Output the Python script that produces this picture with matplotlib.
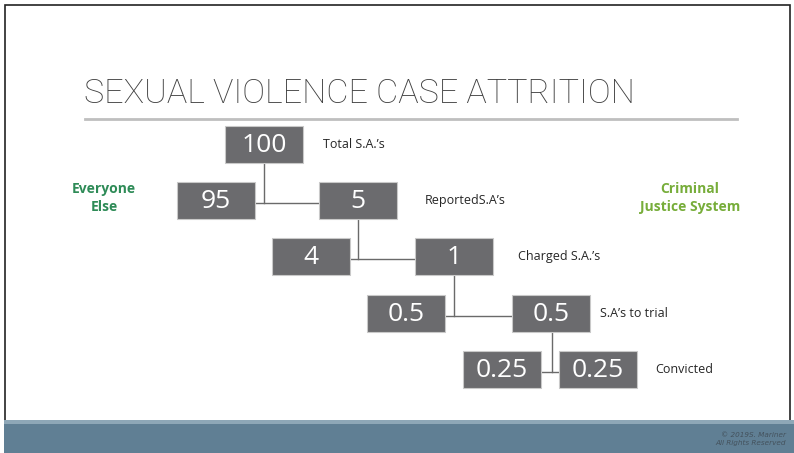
import matplotlib
matplotlib.use("Agg")
import matplotlib.pyplot as plt
from matplotlib.patches import Rectangle

# ---- data ----
right_values = ["100", "5", "1", "0.5", "0.25"]
left_values = [None, "95", "4", "0.5", "0.25"]
stage_labels = ["Total S.A.\u2019s", "ReportedS.A\u2019s", "Charged S.A.\u2019s", "S.A\u2019s to trial", "Convicted"]
title = "SEXUAL VIOLENCE CASE ATTRITION"
left_group = "Everyone\nElse"
right_group = "Criminal\nJustice System"

# ---- layout (pixels) ----
W, H = 794, 453
right_x = [225, 319, 415, 512, 559]
left_x = [None, 177, 272, 367, 463]
row_top = [126, 182, 238, 295, 351]
label_x = [323, 425, 518, 600, 655]
bw, bh = 78, 37
box_col = "#6b6b6e"
line_col = "#6a6a6a"

fig = plt.figure(figsize=(W / 100, H / 100), dpi=100)
ax = fig.add_axes([0, 0, 1, 1])
ax.set_xlim(0, W)
ax.set_ylim(H, 0)
ax.axis("off")

# slide frame
ax.add_patch(Rectangle((4.5, 4.5), 785, 440, fill=False, ec="#222222", lw=1.2))
# footer
ax.add_patch(Rectangle((4, 420), W - 4, 33, fc="#607f94", ec="none", zorder=3))
ax.add_patch(Rectangle((4, 420), W - 4, 4, fc="#8ea7b7", ec="none", zorder=4))
ax.text(786, 435, "\u00a9 2019S. Mariner", ha="right", va="center", fontsize=5.2,
        style="italic", color="#44525d", family="DejaVu Sans", zorder=5)
ax.text(786, 443, "All Rights Reserved", ha="right", va="center", fontsize=5.2,
        style="italic", color="#44525d", family="DejaVu Sans", zorder=5)

# title
ax.text(84, 103, title, ha="left", va="baseline", fontsize=24.6, color="#404040",
        family="Roboto", fontweight="light")
ax.plot([85, 737], [119, 119], color="#bfbfbf", lw=2)


def box(x, y, s):
    ax.add_patch(Rectangle((x, y), bw, bh, fc=box_col, ec="#c9c9c9", lw=0.8, zorder=2))
    ax.text(x + bw / 2, y + bh / 2 + 1, s, ha="center", va="center", fontsize=19,
            color="white", family="Open Sans", zorder=3)


for i, (rv, lv) in enumerate(zip(right_values, left_values)):
    box(right_x[i], row_top[i], rv)
    if lv is not None:
        box(left_x[i], row_top[i], lv)
    ax.text(label_x[i], row_top[i] + bh / 2, stage_labels[i], ha="left", va="center",
            fontsize=9, color="#262626", family="Open Sans")
    if i > 0:
        # connector from parent box
        px = right_x[i - 1] + bw / 2 if i < 4 else right_x[i - 1] + 40
        ymid = row_top[i] + bh / 2 + 2
        ax.plot([px, px], [row_top[i - 1] + bh, ymid], color=line_col, lw=1, zorder=1)
        ax.plot([left_x[i] + bw, right_x[i]], [ymid, ymid], color=line_col, lw=1, zorder=1)

ax.text(104, 198, left_group, ha="center", va="center", fontsize=10, fontweight="bold",
        color="#2e8b57", family="Open Sans", linespacing=1.35)
ax.text(690, 198, right_group, ha="center", va="center", fontsize=10, fontweight="bold",
        color="#77ad3a", family="Open Sans", linespacing=1.35)

fig.savefig("out.png", dpi=100)
